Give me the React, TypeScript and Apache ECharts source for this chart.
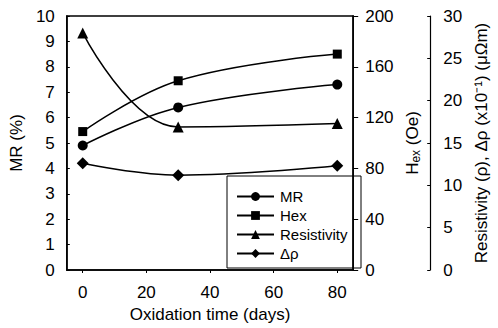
import React, { useEffect, useRef } from "react";
import * as echarts from "echarts";

const xDays = [0, 30, 80];
const xTickValues = [0, 20, 40, 60, 80];
const mrValues = [4.9, 6.4, 7.3];
const hexValues = [109, 149, 170];
const resistivityValues = [28.0, 16.9, 17.3];
const deltaRhoValues = [12.6, 11.2, 12.3];
const seriesNames = ["MR", "Hex", "Resistivity", "Δρ"];

const FONT = "'Liberation Sans', Arial, Helvetica, sans-serif";
const FS = 17;

function pairs(xs: number[], ys: number[]) {
  return xs.map((x, i) => [x, ys[i]]);
}

export default function App() {
  const ref = useRef<HTMLDivElement>(null);
  useEffect(() => {
    if (!ref.current) return;
    const chart = echarts.init(ref.current, undefined, { renderer: "svg" });
    const black = "#000";
    const lineBase = {
      type: "line" as const,
      smooth: 0.4,
      lineStyle: { color: black, width: 1.5 },
      itemStyle: { color: black },
      emphasis: { disabled: true },
    };
    chart.setOption({
      animation: false,
      backgroundColor: "#fff",
      textStyle: { fontFamily: FONT, color: black },
      grid: {
        left: 56,
        right: 137,
        top: 16,
        bottom: 58,
        show: true,
        borderColor: black,
        borderWidth: 1.5,
        containLabel: false,
      },
      legend: {
        orient: "vertical",
        left: 231,
        top: 184,
        itemWidth: 37,
        itemHeight: 11,
        itemGap: 4,
        data: seriesNames,
        textStyle: {
          fontFamily: FONT,
          fontSize: 15,
          color: black,
          lineHeight: 15,
          padding: [0, 0, 0, 1],
        },
      },
      graphic: [
        {
          type: "rect",
          shape: { x: 227, y: 176, width: 134, height: 92 },
          style: { fill: "none", stroke: black, lineWidth: 1 },
          silent: true,
        },
      ],
      xAxis: {
        type: "value",
        min: -5,
        max: 85,
        name: "Oxidation time (days)",
        nameLocation: "middle",
        nameGap: 36,
        nameTextStyle: { fontSize: FS, color: black, fontFamily: FONT },
        axisLine: { show: true, onZero: false, lineStyle: { color: black, width: 1.5 } },
        axisTick: {
          show: true,
          inside: false,
          length: 3,
          customValues: xTickValues,
          lineStyle: { color: black },
        },
        axisLabel: {
          customValues: xTickValues,
          fontSize: FS,
          color: black,
          margin: 14,
          fontFamily: FONT,
        },
        splitLine: { show: false },
      },
      yAxis: [
        {
          type: "value",
          position: "left",
          min: 0,
          max: 10,
          interval: 1,
          name: "MR (%)",
          nameLocation: "middle",
          nameRotate: 90,
          nameGap: 39,
          nameTextStyle: { fontSize: FS, color: black, fontFamily: FONT },
          axisLine: { show: true, onZero: false, lineStyle: { color: black, width: 1.5 } },
          axisTick: { show: true, inside: true, length: 3, lineStyle: { color: black } },
          axisLabel: { fontSize: FS, color: black, margin: 12, fontFamily: FONT },
          splitLine: { show: false },
        },
        {
          type: "value",
          position: "right",
          min: 0,
          max: 200,
          interval: 40,
          name: "{h|H}{s|ex}{h| (Oe)}",
          nameLocation: "middle",
          nameRotate: 90,
          nameGap: 48,
          nameTextStyle: {
            fontSize: FS,
            color: black,
            fontFamily: FONT,
            rich: {
              h: { fontSize: FS, fontFamily: FONT, color: black },
              s: { fontSize: 12, fontFamily: FONT, color: black, verticalAlign: "bottom", padding: [6, 0, 0, 0] },
            },
          },
          axisLine: { show: true, onZero: false, lineStyle: { color: black, width: 1.5 } },
          axisTick: { show: true, inside: false, length: 5, lineStyle: { color: black } },
          axisLabel: { fontSize: FS, color: black, margin: 12, fontFamily: FONT },
          splitLine: { show: false },
        },
        {
          type: "value",
          position: "right",
          offset: 77,
          min: 0,
          max: 30,
          interval: 5,
          name: "Resistivity (ρ), Δρ (x10⁻¹) (μΩm)",
          nameLocation: "middle",
          nameRotate: 90,
          nameGap: 42,
          nameTextStyle: { fontSize: FS, color: black, fontFamily: FONT },
          axisLine: { show: true, onZero: false, lineStyle: { color: black, width: 1.2 } },
          axisTick: { show: true, inside: true, length: 3, lineStyle: { color: black } },
          axisLabel: { fontSize: FS, color: black, margin: 13, fontFamily: FONT },
          splitLine: { show: false },
        },
      ],
      series: [
        { ...lineBase, name: "MR", yAxisIndex: 0, symbol: "circle", symbolSize: 10, data: pairs(xDays, mrValues) },
        { ...lineBase, name: "Hex", yAxisIndex: 1, symbol: "rect", symbolSize: 9, data: pairs(xDays, hexValues) },
        { ...lineBase, name: "Resistivity", yAxisIndex: 2, symbol: "triangle", symbolSize: 11, data: pairs(xDays, resistivityValues) },
        { ...lineBase, name: "Δρ", yAxisIndex: 2, symbol: "diamond", symbolSize: [12, 12], data: pairs(xDays, deltaRhoValues) },
      ],
    });
    return () => chart.dispose();
  }, []);
  return (
    <div
      ref={ref}
      style={{ position: "fixed", left: 0, top: 0, width: 498, height: 328, background: "#fff" }}
    />
  );
}
